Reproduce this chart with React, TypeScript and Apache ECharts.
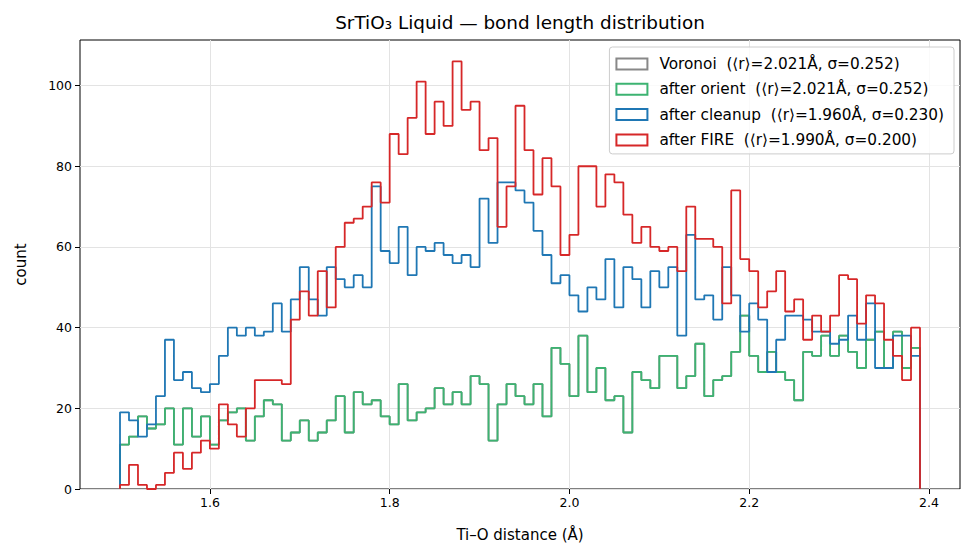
import React, { useEffect, useRef } from "react";
import * as echarts from "echarts";

// Histogram bins: 0.01 Å wide, starting at 1.50 Å
const BIN_START = 1.5;
const BIN_WIDTH = 0.01;

// Bond counts per bin
const voronoiCounts = [
  11, 13, 18, 15, 16, 20, 11, 20, 13, 18, 11, 17, 19, 20, 12, 18, 22, 21, 12, 14,
  17, 12, 14, 17, 23, 14, 24, 21, 22, 18, 16, 26, 17, 19, 20, 25, 21, 24, 21, 28,
  26, 12, 21, 26, 23, 21, 26, 18, 35, 31, 23, 38, 24, 30, 22, 23, 14, 29, 27, 25,
  33, 33, 25, 28, 36, 23, 27, 28, 34, 43, 33, 29, 34, 29, 27, 22, 34, 33, 38, 33,
  38, 34, 30, 37, 39, 30, 39, 30, 35,
];
const orientCounts = [
  11, 13, 18, 15, 16, 20, 11, 20, 13, 18, 11, 17, 19, 20, 12, 18, 22, 21, 12, 14,
  17, 12, 14, 17, 23, 14, 24, 21, 22, 18, 16, 26, 17, 19, 20, 25, 21, 24, 21, 28,
  26, 12, 21, 26, 23, 21, 26, 18, 35, 31, 23, 38, 24, 30, 22, 23, 14, 29, 27, 25,
  33, 33, 25, 28, 36, 23, 27, 28, 34, 43, 33, 29, 34, 29, 27, 22, 34, 33, 38, 33,
  38, 34, 30, 37, 39, 30, 39, 30, 35,
];
const cleanupCounts = [
  19, 17, 13, 16, 23, 37, 27, 29, 25, 24, 26, 33, 40, 38, 40, 38, 39, 46, 39, 47,
  55, 47, 43, 55, 52, 50, 53, 50, 75, 59, 56, 65, 53, 60, 59, 61, 58, 56, 58, 55,
  72, 61, 76, 76, 74, 71, 64, 58, 51, 53, 48, 44, 50, 47, 57, 45, 55, 52, 45, 54,
  50, 55, 38, 63, 47, 48, 42, 55, 48, 39, 46, 42, 29, 37, 43, 43, 42, 39, 39, 36,
  37, 43, 37, 46, 30, 30, 38, 38, 33,
];
const fireCounts = [
  1, 6, 1, 0, 1, 4, 9, 5, 9, 12, 10, 21, 16, 13, 20, 27, 27, 27, 26, 42,
  49, 43, 54, 45, 60, 66, 67, 70, 76, 71, 88, 83, 92, 101, 88, 96, 90, 106, 94, 96,
  84, 87, 65, 75, 95, 84, 73, 82, 75, 58, 63, 80, 80, 70, 78, 76, 68, 61, 65, 60,
  59, 60, 54, 70, 62, 62, 60, 46, 74, 57, 54, 45, 49, 54, 44, 47, 37, 43, 39, 43,
  53, 52, 41, 48, 46, 37, 33, 27, 40,
];

const seriesNames = [
  "Voronoi  (⟨r⟩=2.021Å, σ=0.252)",
  "after orient  (⟨r⟩=2.021Å, σ=0.252)",
  "after cleanup  (⟨r⟩=1.960Å, σ=0.230)",
  "after FIRE  (⟨r⟩=1.990Å, σ=0.200)",
];
const seriesColors = ["#888888", "#3cb371", "#1f77b4", "#d62728"];

const xTicks = [1.6, 1.8, 2.0, 2.2, 2.4];
const yTicks = [0, 20, 40, 60, 80, 100];

const FONT = "'DejaVu Sans', sans-serif";

// Outline of a step histogram: up the first edge, across each bin top, down the last edge
function stepOutline(counts: number[]): number[][] {
  const pts: number[][] = [[BIN_START, 0]];
  counts.forEach((c, i) => {
    const left = BIN_START + i * BIN_WIDTH;
    pts.push([left, c], [left + BIN_WIDTH, c]);
  });
  pts.push([BIN_START + counts.length * BIN_WIDTH, 0]);
  return pts;
}

export default function App() {
  const ref = useRef<HTMLDivElement>(null);

  useEffect(() => {
    if (!ref.current) return;
    const chart = echarts.init(ref.current, undefined, { renderer: "svg" });
    const allCounts = [voronoiCounts, orientCounts, cleanupCounts, fireCounts];
    const nBins = fireCounts.length;
    const dataMin = BIN_START;
    const dataMax = BIN_START + nBins * BIN_WIDTH;
    const pad = (dataMax - dataMin) * 0.05;
    const yMax = Math.max(...allCounts.map((a) => Math.max(...a))) * 1.05;

    chart.setOption({
      animation: false,
      backgroundColor: "#ffffff",
      title: {
        text: "SrTiO₃ Liquid — bond length distribution",
        left: 520,
        top: 13,
        padding: 0,
        textAlign: "center",
        textStyle: { fontFamily: FONT, fontSize: 18.4, fontWeight: "normal", color: "#000" },
      },
      legend: {
        orient: "vertical",
        right: 20,
        top: 47,
        icon: "rect",
        itemWidth: 31,
        itemHeight: 11,
        itemGap: 7.3,
        padding: [8, 10, 5, 6],
        borderColor: "#cccccc",
        borderWidth: 1,
        borderRadius: 3,
        backgroundColor: "rgba(255,255,255,0.8)",
        selectedMode: false,
        textStyle: {
          fontFamily: FONT,
          fontSize: 15.3,
          color: "#000",
          lineHeight: 18,
          padding: [0, 0, 0, 7],
        },
        data: seriesNames.map((name, i) => ({
          name,
          itemStyle: { color: "rgba(0,0,0,0)", borderColor: seriesColors[i], borderWidth: 2 },
        })),
      },
      grid: {
        left: 80,
        right: 14,
        top: 40,
        bottom: 68,
        show: true,
        borderColor: "#000",
        borderWidth: 1,
        backgroundColor: "transparent",
      },
      xAxis: {
        type: "value",
        min: dataMin - pad,
        max: dataMax + pad,
        name: "Ti–O distance (Å)",
        nameLocation: "middle",
        nameGap: 38,
        nameTextStyle: { fontFamily: FONT, fontSize: 15, color: "#000" },
        axisLine: { show: false },
        axisTick: { show: true, length: 5, customValues: xTicks, lineStyle: { color: "#000" } },
        axisLabel: {
          customValues: xTicks,
          margin: 7,
          fontFamily: FONT,
          fontSize: 12.5,
          color: "#000",
          formatter: (v: number) => v.toFixed(1),
        },
        splitLine: { show: true, lineStyle: { color: "#e3e3e3", width: 1 } },
      },
      yAxis: {
        type: "value",
        min: 0,
        max: yMax,
        name: "count",
        nameLocation: "middle",
        nameGap: 52,
        nameTextStyle: { fontFamily: FONT, fontSize: 15, color: "#000" },
        axisLine: { show: false },
        axisTick: { show: true, length: 5, customValues: yTicks, lineStyle: { color: "#000" } },
        axisLabel: {
          customValues: yTicks,
          margin: 8,
          fontFamily: FONT,
          fontSize: 12.5,
          color: "#000",
          formatter: (v: number) => String(Math.round(v)),
        },
        splitLine: { show: true, lineStyle: { color: "#e3e3e3", width: 1 } },
      },
      series: allCounts.map((counts, i) => ({
        name: seriesNames[i],
        type: "line",
        data: stepOutline(counts),
        showSymbol: false,
        symbol: "none",
        color: seriesColors[i],
        lineStyle: { color: seriesColors[i], width: 1.8 },
        z: 2 + i,
      })),
    });

    return () => chart.dispose();
  }, []);

  return (
    <div
      ref={ref}
      style={{ position: "fixed", left: 0, top: 0, width: 974, height: 557 }}
    />
  );
}
